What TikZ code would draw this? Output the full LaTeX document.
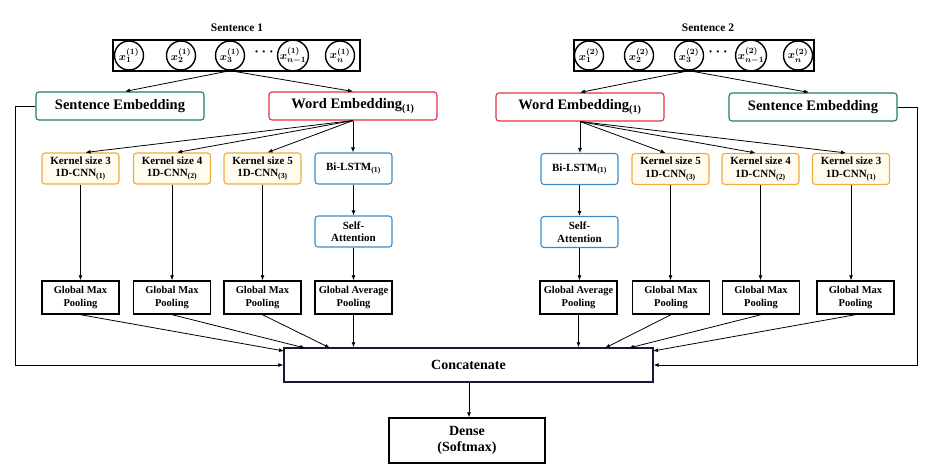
\documentclass[tikz,border=0pt]{standalone}
\usepackage{fontspec}
\setmainfont{Liberation Serif}
\usetikzlibrary{arrows.meta}
\definecolor{semcol}{RGB}{30,125,95}
\definecolor{wecol}{RGB}{222,50,72}
\definecolor{kcol}{RGB}{240,172,64}
\definecolor{kfill}{RGB}{255,251,238}
\definecolor{lcol}{RGB}{58,140,200}
\definecolor{ccol}{RGB}{25,25,55}
\begin{document}
\begin{tikzpicture}[x=1pt,y=-1pt,
  base/.style={inner sep=0pt, align=center, line width=1.1pt},
  semb/.style={base, draw=semcol, rounded corners=3pt, minimum width=168pt, minimum height=28pt, font=\fontsize{14.5}{16}\selectfont\bfseries},
  wemb/.style={semb, draw=wecol},
  kern/.style={base, draw=kcol, fill=kfill, rounded corners=3pt, minimum width=77pt, minimum height=31pt, font=\fontsize{11}{12.5}\selectfont\bfseries},
  lstm/.style={kern, draw=lcol, fill=white},
  pool/.style={base, draw=black, line width=1.4pt, minimum width=77pt, minimum height=33pt, font=\fontsize{10.5}{12.5}\selectfont\bfseries},
  sbox/.style={base, draw=black, line width=1.5pt, minimum height=31pt},
  tok/.style={circle, draw=black, line width=1.4pt, minimum size=29pt, inner sep=0pt, font=\fontsize{11}{12}\selectfont\boldmath},
  stitle/.style={font=\fontsize{11.5}{13}\selectfont\bfseries},
  dots/.style={font=\fontsize{14}{14}\selectfont\boldmath},
  arr/.style={-{Latex[length=5pt,width=4pt]}, line width=0.8pt}
]
\useasboundingbox (0,0) rectangle (932,476);

% ---------- Sentence 1 ----------
\node[stitle] (t1) at (237,28) {Sentence 1};
\node[sbox, minimum width=247pt] (box1) at (236.5,55.5) {};
\node[tok] (a1) at (129,55.5) {$x_1^{(1)}$};
\node[tok] (a2) at (181,55.5) {$x_2^{(1)}$};
\node[tok] (a3) at (230,55.5) {$x_3^{(1)}$};
\node[dots] (ad) at (264,52) {$\cdots$};
\node[tok] (a4) at (293,55.5) {$x_{n-1}^{(1)}$};
\node[tok] (a5) at (340,55.5) {$x_n^{(1)}$};

\node[semb] (semb1) at (120,106) {Sentence Embedding};
\node[wemb] (wemb1) at (353,106) {Word Embedding\textsubscript{(1)}};

\node[kern] (k3L) at (80.5,168.5) {Kernel size 3\\1D-CNN\textsubscript{(1)}};
\node[kern] (k4L) at (172,168.5) {Kernel size 4\\1D-CNN\textsubscript{(2)}};
\node[kern] (k5L) at (262.5,168.5) {Kernel size 5\\1D-CNN\textsubscript{(3)}};
\node[lstm] (lsL) at (353.5,168.5) {Bi-LSTM\textsubscript{(1)}};
\node[lstm] (atL) at (353.5,231.5) {Self-\\Attention};

\node[pool] (p1L) at (80.5,297.5) {Global Max\\Pooling};
\node[pool] (p2L) at (172,297.5) {Global Max\\Pooling};
\node[pool] (p3L) at (262.5,297.5) {Global Max\\Pooling};
\node[pool] (p4L) at (353.5,297.5) {Global Average\\Pooling};

% ---------- Sentence 2 ----------
\node[stitle] (t2) at (708,28) {Sentence 2};
\node[sbox, minimum width=240pt] (box2) at (694,55.5) {};
\node[tok] (b1) at (589,55.5) {$x_1^{(2)}$};
\node[tok] (b2) at (639,55.5) {$x_2^{(2)}$};
\node[tok] (b3) at (689,55.5) {$x_3^{(2)}$};
\node[dots] (bd) at (718,52) {$\cdots$};
\node[tok] (b4) at (751,55.5) {$x_{n-1}^{(2)}$};
\node[tok] (b5) at (798,55.5) {$x_n^{(2)}$};

\node[wemb] (wemb2) at (580,107) {Word Embedding\textsubscript{(1)}};
\node[semb] (semb2) at (813,107) {Sentence Embedding};

\node[lstm] (lsR) at (579.5,169) {Bi-LSTM\textsubscript{(1)}};
\node[lstm] (atR) at (579.5,232) {Self-\\Attention};
\node[kern] (k5R) at (670.5,169) {Kernel size 5\\1D-CNN\textsubscript{(3)}};
\node[kern] (k4R) at (760.5,169) {Kernel size 4\\1D-CNN\textsubscript{(2)}};
\node[kern] (k3R) at (851,169) {Kernel size 3\\1D-CNN\textsubscript{(1)}};

\node[pool] (p4R) at (578.5,297.5) {Global Average\\Pooling};
\node[pool] (p3R) at (671,297.5) {Global Max\\Pooling};
\node[pool] (p2R) at (761,297.5) {Global Max\\Pooling};
\node[pool] (p1R) at (855.5,297.5) {Global Max\\Pooling};

% ---------- Bottom ----------
\node[base, draw=ccol, line width=1.4pt, minimum width=369pt, minimum height=34pt, font=\fontsize{14}{16}\selectfont\bfseries] (concat) at (468.5,365) {Concatenate};
\node[base, draw=black, line width=1.4pt, minimum width=156pt, minimum height=45pt, font=\fontsize{14}{16}\selectfont\bfseries] (dense) at (467,440.5) {Dense\\(Softmax)};

% ---------- Connectors ----------
\draw[arr] (a3.south) -- ([xshift=5pt]semb1.north);
\draw[arr] (a3.south) -- (wemb1.north);
\draw[arr] (b3.south) -- (wemb2.north);
\draw[arr] (b3.south) -- ([xshift=-4pt]semb2.north);

\draw[arr] (wemb1.south) -- ([xshift=5pt]k3L.north);
\draw[arr] (wemb1.south) -- ([xshift=5pt]k4L.north);
\draw[arr] (wemb1.south) -- ([xshift=5pt]k5L.north);
\draw[arr] (wemb1.south) -- (wemb1.south |- lsL.north);
\draw[arr] (wemb2.south) -- (wemb2.south |- lsR.north);
\draw[arr] (wemb2.south) -- ([xshift=-5pt]k5R.north);
\draw[arr] (wemb2.south) -- ([xshift=-5pt]k4R.north);
\draw[arr] (wemb2.south) -- ([xshift=-5pt]k3R.north);

\draw[arr] (k3L.south) -- (k3L.south |- p1L.north);
\draw[arr] (k4L.south) -- (k4L.south |- p2L.north);
\draw[arr] (k5L.south) -- (k5L.south |- p3L.north);
\draw[arr] (lsL) -- (atL);
\draw[arr] (atL) -- (p4L);
\draw[arr] (lsR) -- (atR);
\draw[arr] (atR.south) -- (atR.south |- p4R.north);
\draw[arr] (k5R.south) -- (k5R.south |- p3R.north);
\draw[arr] (k4R.south) -- (k4R.south |- p2R.north);
\draw[arr] (k3R.south) -- (k3R.south |- p1R.north);

\coordinate (cL1) at (284,351);
\coordinate (cL2) at (305,348);
\coordinate (cL3) at (330,348);
\coordinate (cR2) at (605,348);
\coordinate (cR3) at (629,348);
\coordinate (cR1) at (653,351);
\draw[arr] (p1L.south) -- (cL1);
\draw[arr] (p2L.south) -- (cL2);
\draw[arr] (p3L.south) -- (cL3);
\draw[arr] (p4L.south) -- (p4L.south |- concat.north);
\draw[arr] (p4R.south) -- (p4R.south |- concat.north);
\draw[arr] (p3R.south) -- (cR2);
\draw[arr] (p2R.south) -- (cR3);
\draw[arr] (p1R.south) -- (cR1);

\coordinate (edgeL) at (15,0);
\coordinate (edgeR) at (917,0);
\draw[arr] (semb1.west) -- (semb1.west -| edgeL) |- (concat.west);
\draw[arr] (semb2.east) -- (semb2.east -| edgeR) |- (concat.east);

\draw[arr] (concat.south -| dense.north) ++(2,0) coordinate (cs) -- (cs |- dense.north);
\end{tikzpicture}
\end{document}
